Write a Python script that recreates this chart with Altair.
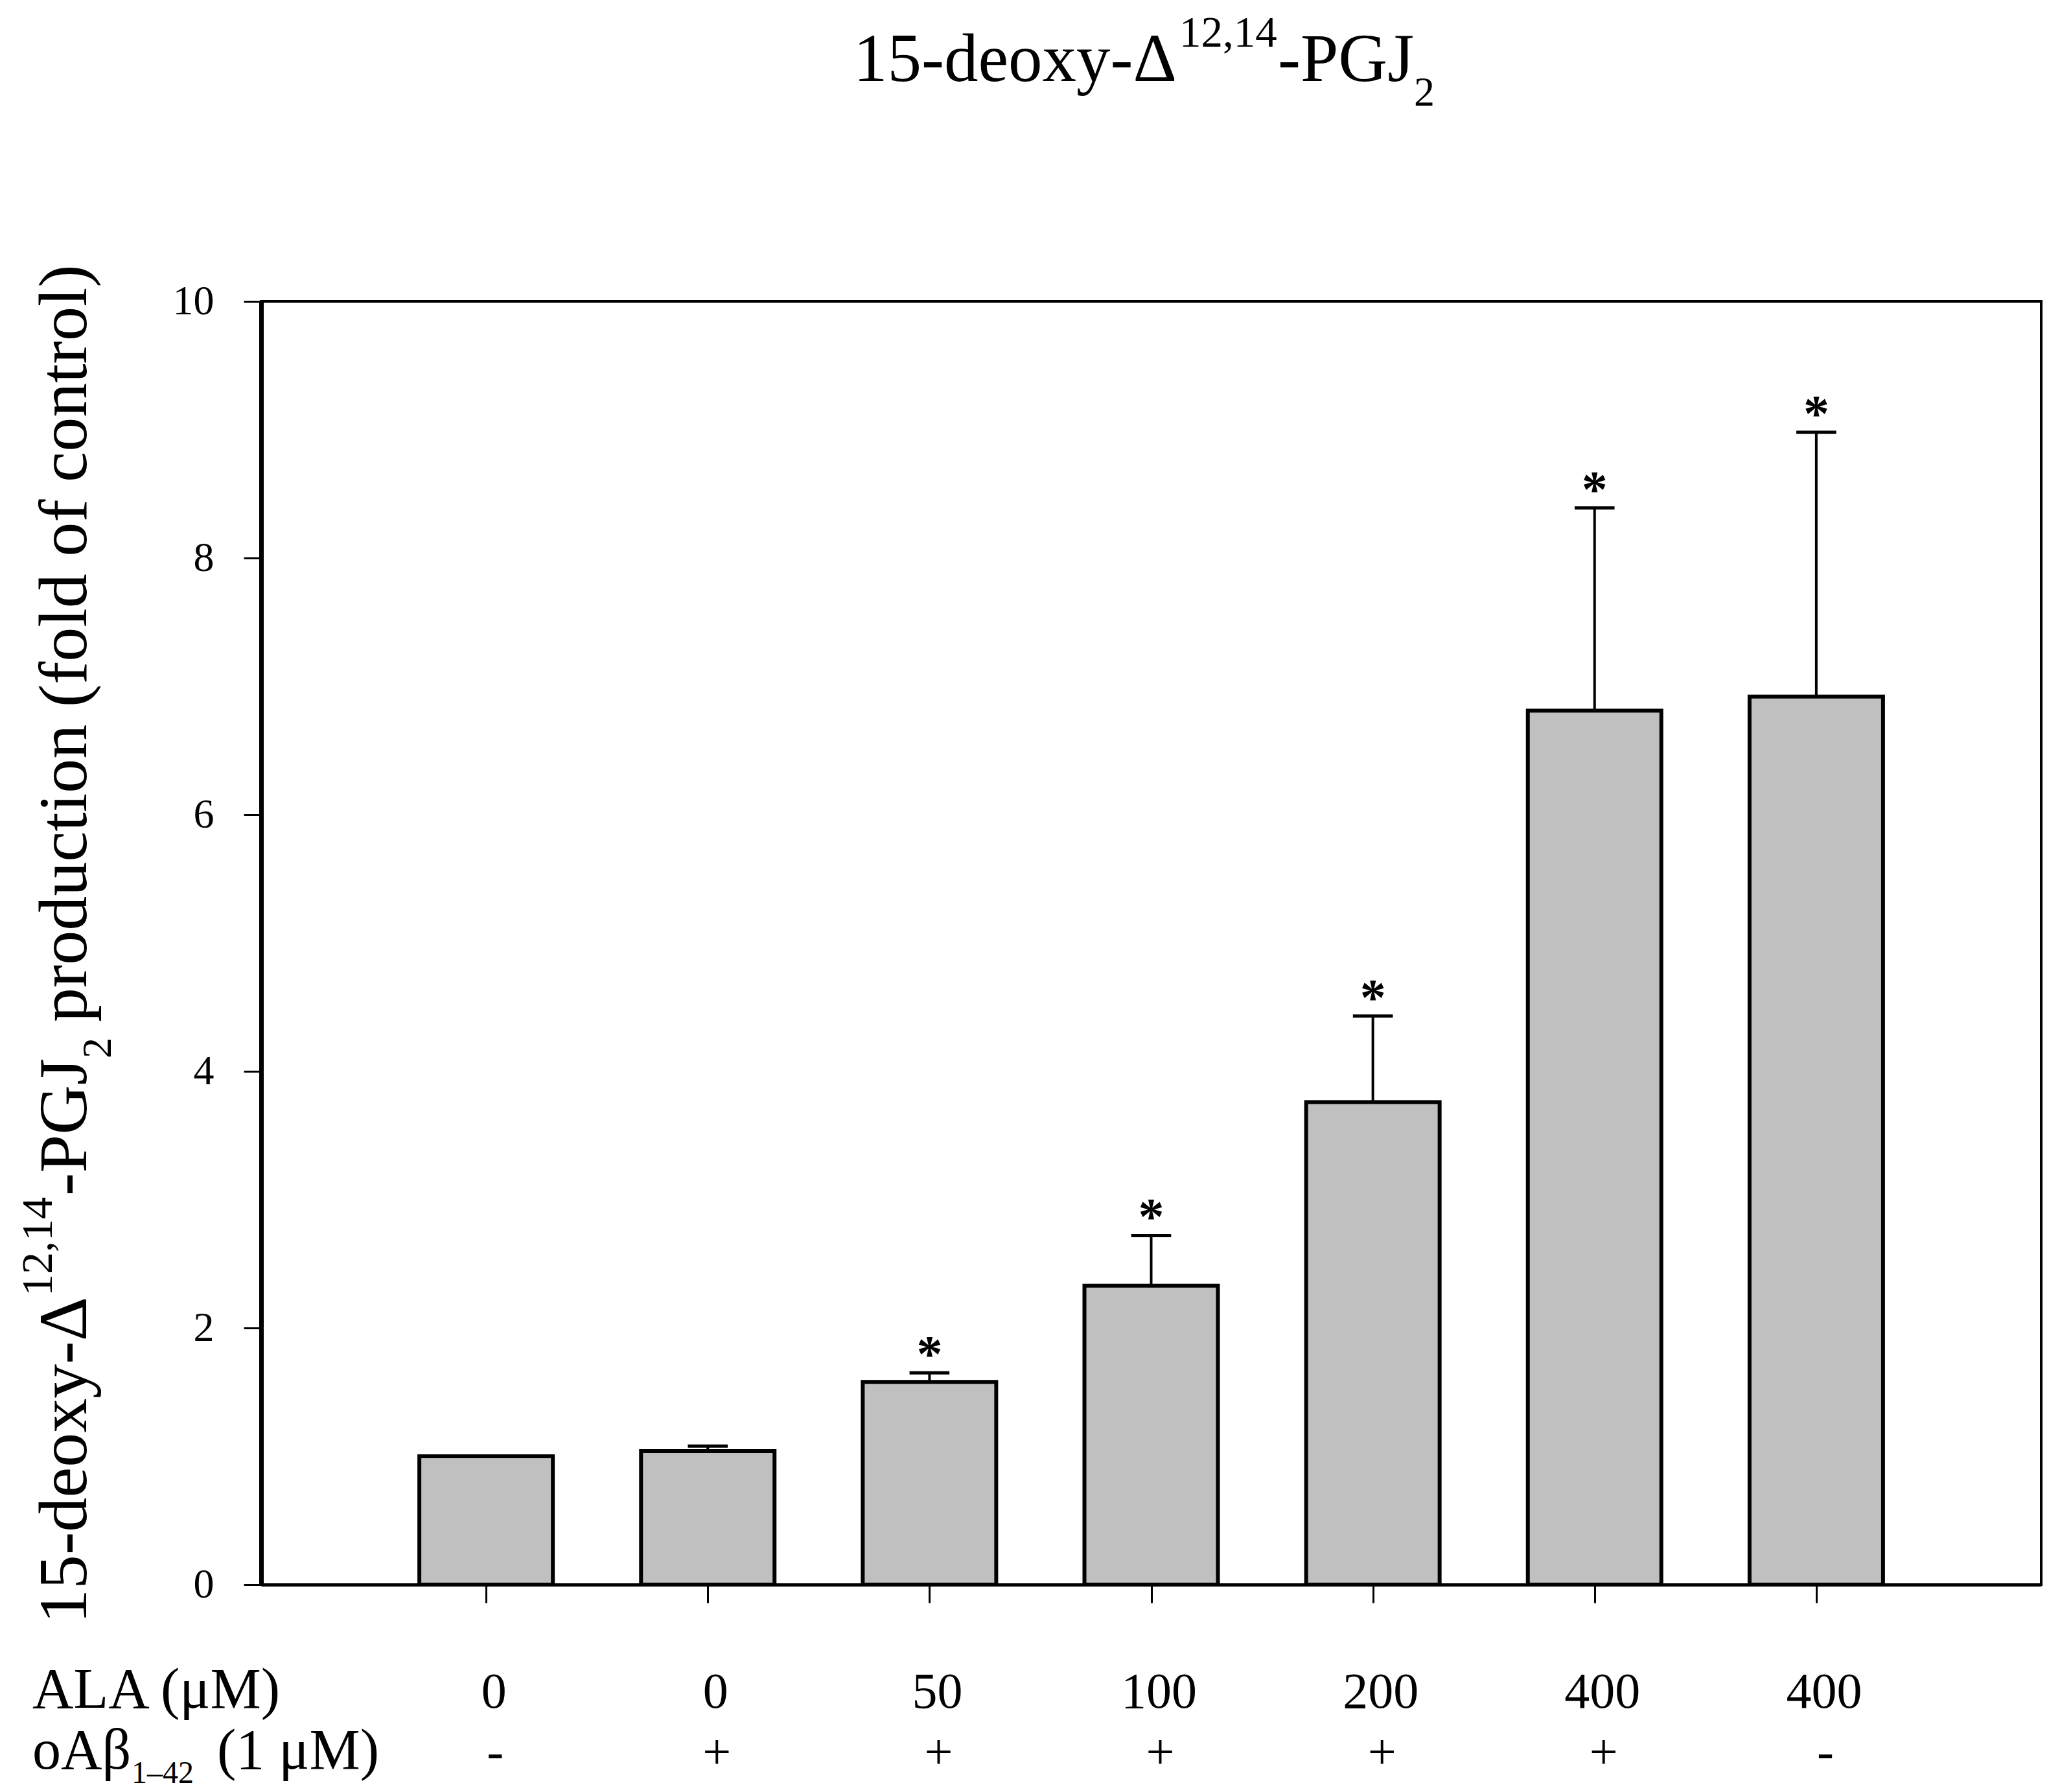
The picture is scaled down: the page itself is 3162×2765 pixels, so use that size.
import altair as alt
import pandas as pd

# ---- data ----
positions = [1, 2, 3, 4, 5, 6, 7]
ala = ["0", "0", "50", "100", "200", "400", "400"]
abeta = ["-", "+", "+", "+", "+", "+", "-"]
means = [1.00, 1.04, 1.58, 2.33, 3.76, 6.81, 6.92]
err_top = [1.00, 1.08, 1.65, 2.72, 4.43, 8.39, 8.98]
stars = ["", "", "*", "*", "*", "*", "*"]
y_ticks = [0, 2, 4, 6, 8, 10]

df = pd.DataFrame(dict(pos=positions, ala=ala, abeta=abeta, mean=means,
                       top=err_top, star=stars))

W, H = 2747, 1980
FONT = "Liberation Serif"

xs = alt.Scale(domain=[0, 8], nice=False, zero=False)
ys = alt.Scale(domain=[0, 10], nice=False)

bars = alt.Chart(df).mark_bar(
    size=206, fill="#c0c0c0", stroke="black", strokeWidth=6, strokeJoin="miter"
).encode(
    x=alt.X("pos:Q", scale=xs, axis=alt.Axis(
        values=positions, labels=False, title=None, ticks=True, tickSize=28,
        tickWidth=3, tickColor="black", domainWidth=5, domainColor="black",
        grid=False)),
    y=alt.Y("mean:Q", scale=ys, axis=alt.Axis(
        values=y_ticks, format="d", title=None, tickSize=27, tickWidth=3,
        tickColor="black", labelFont=FONT, labelFontSize=64, labelPadding=46,
        labelColor="black", labelFlush=False, domainWidth=7,
        domainColor="black", grid=False)),
)

errs = df[df["top"] > df["mean"]]
err_line = alt.Chart(errs).mark_rule(color="black", strokeWidth=4).encode(
    x=alt.X("pos:Q", scale=xs), y=alt.Y("mean:Q", scale=ys), y2="top:Q")
err_cap = alt.Chart(errs).transform_calculate(
    xl="datum.pos - 0.09", xr="datum.pos + 0.09"
).mark_rule(color="black", strokeWidth=5).encode(
    x=alt.X("xl:Q", scale=xs), x2="xr:Q", y=alt.Y("top:Q", scale=ys))
star_txt = alt.Chart(df).mark_text(
    font=FONT, fontSize=80, fontWeight="bold", baseline="alphabetic",
    color="black", dy=-2
).encode(x=alt.X("pos:Q", scale=xs), y=alt.Y("top:Q", scale=ys), text="star:N")

row1 = alt.Chart(df).mark_text(
    font=FONT, fontSize=78, baseline="alphabetic", color="black", dx=12
).encode(x=alt.X("pos:Q", scale=xs), y=alt.value(2170), text="ala:N")
row2 = alt.Chart(df).mark_text(
    font=FONT, fontSize=78, baseline="alphabetic", color="black", dx=14
).encode(x=alt.X("pos:Q", scale=xs), y=alt.value(2264), text="abeta:N")


def label(text, x, y, size, angle=0, align="left"):
    return alt.Chart(pd.DataFrame({"t": [text]})).mark_text(
        font=FONT, fontSize=size, angle=angle, align=align,
        baseline="alphabetic", color="black"
    ).encode(text="t:N", x=alt.value(x), y=alt.value(y))


texts = [
    # main title
    label("15-deoxy-\u0394", 914, -340, 105),
    label("12,14", 1417, -393, 67),
    label("-PGJ", 1569, -340, 105),
    label("2", 1779, -302, 64),
    # y-axis title (rotated)
    label("15-deoxy-\u0394", -270, 2040, 106, angle=270),
    label("12,14", -323, 1535, 68, angle=270),
    label("-PGJ", -270, 1380, 106, angle=270),
    label("2", -232, 1168, 64, angle=270),
    label("production (fold of control)", -270, 1112, 106, angle=270),
    # row labels
    label("ALA (\u03bcM)", -353, 2170, 88),
    label("oA\u03b2", -353, 2264, 88),
    label("1\u201342", -200, 2286, 48),
    label("(1 \u03bcM)", 182, 2264, 88, align="right"),
]

chart = alt.layer(bars, err_line, err_cap, star_txt, row1, row2, *texts).properties(
    width=W, height=H,
    background="white",
    autosize=alt.AutoSizeParams(type="none"),
    padding={"left": 395, "top": 457, "right": 4, "bottom": 312},
).configure_view(stroke="black", strokeWidth=4)

chart.save("out.html", embed_options={"renderer": "svg", "actions": False})
